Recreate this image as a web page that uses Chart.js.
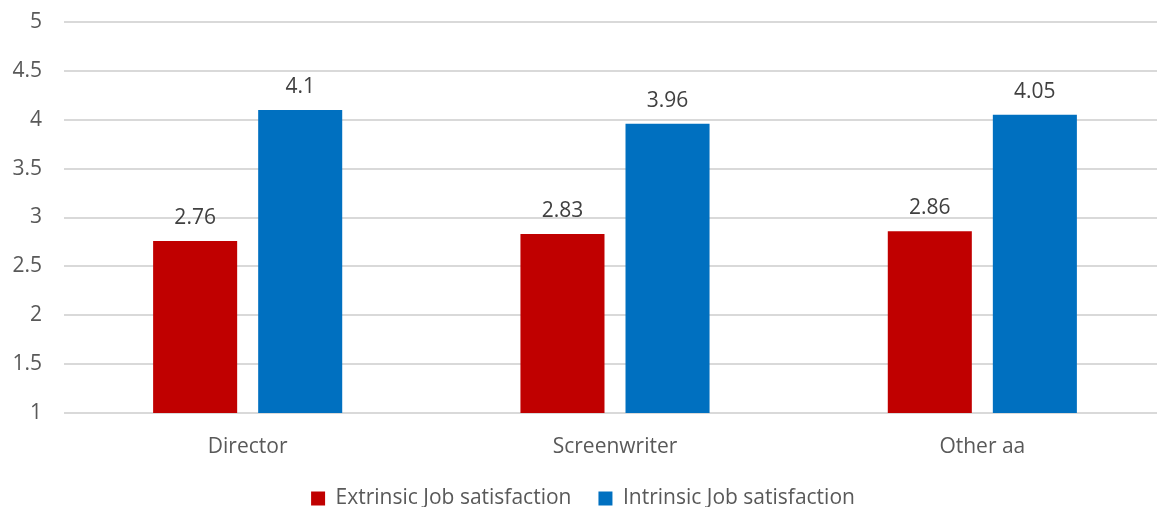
<!DOCTYPE html>
<html>
<head>
<meta charset="utf-8">
<script src="https://cdn.jsdelivr.net/npm/chart.js@4.4.1/dist/chart.umd.min.js"></script>
<style>
  html, body { margin: 0; padding: 0; background: #fff; overflow: hidden; width: 1157px; height: 507px; }
  #wrap { position: relative; width: 1170px; height: 519px; }
</style>
</head>
<body>
<div id="wrap"><canvas id="c"></canvas></div>
<script>
const categories = ["Director", "Screenwriter", "Other aa"];
const extrinsic = [2.76, 2.83, 2.86];
const intrinsic = [4.1, 3.96, 4.05];
const seriesNames = ["Extrinsic Job satisfaction", "Intrinsic Job satisfaction"];
const yTicks = [1, 1.5, 2, 2.5, 3, 3.5, 4, 4.5, 5];

const FONT = "'Open Sans', 'Noto Sans', sans-serif";
const TXT = "#595959";
const FS = 21;

const valueLabels = {
  id: "valueLabels",
  afterDatasetsDraw(chart) {
    const ctx = chart.ctx;
    ctx.save();
    ctx.font = FS + "px " + FONT;
    ctx.fillStyle = "#404040";
    ctx.textAlign = "center";
    ctx.textBaseline = "middle";
    chart.data.datasets.forEach((ds, i) => {
      chart.getDatasetMeta(i).data.forEach((bar, j) => {
        ctx.fillText(String(ds.data[j]), bar.x, bar.y - 23);
      });
    });
    ctx.restore();
  }
};

new Chart(document.getElementById("c"), {
  type: "bar",
  data: {
    labels: categories,
    datasets: [
      { label: seriesNames[0], data: extrinsic, backgroundColor: "#C00000" },
      { label: seriesNames[1], data: intrinsic, backgroundColor: "#0070C0" }
    ]
  },
  options: {
    responsive: true,
    maintainAspectRatio: false,
    animation: false,
    devicePixelRatio: 1,
    categoryPercentage: 0.572,
    barPercentage: 0.8,
    layout: { padding: { top: 22, right: 4, left: 0, bottom: 0 } },
    scales: {
      y: {
        min: 1, max: 5,
        afterBuildTicks(s) { s.ticks = yTicks.map(v => ({ value: v })); },
        afterFit(s) { s.width = 64; },
        border: { display: false },
        grid: { color: "#D9D9D9", lineWidth: 2, drawTicks: true, tickLength: 22, tickColor: "rgba(0,0,0,0)" },
        ticks: {
          color: TXT, font: { family: FONT, size: FS }, padding: 0,
          callback: v => String(v)
        }
      },
      x: {
        afterFit(s) { s.height = 48; },
        border: { display: false },
        grid: { display: false, drawTicks: false },
        ticks: { color: TXT, font: { family: FONT, size: FS }, padding: 21 }
      }
    },
    plugins: {
      legend: {
        position: "bottom",
        labels: {
          color: TXT,
          font: { family: FONT, size: FS },
          boxWidth: 14, boxHeight: 14,
          padding: 27
        }
      },
      tooltip: { enabled: false }
    }
  },
  plugins: [valueLabels]
});
</script>
</body>
</html>
